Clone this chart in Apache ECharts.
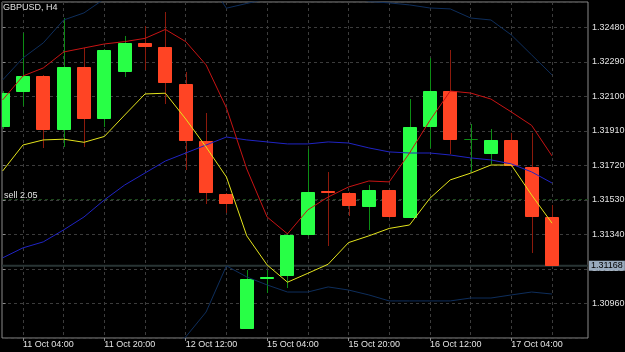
<!DOCTYPE html>
<html>
<head>
<meta charset="utf-8">
<style>
  html, body { margin: 0; padding: 0; background: #000; }
  #chart { width: 625px; height: 352px; }
</style>
<script src="https://cdn.jsdelivr.net/npm/echarts@6/dist/echarts.min.js"></script>
</head>
<body>
<div id="chart"></div>
<script>
// H4 bar times
const times = [
  '11 Oct 00:00', '11 Oct 04:00', '11 Oct 08:00', '11 Oct 12:00', '11 Oct 16:00', '11 Oct 20:00',
  '12 Oct 00:00', '12 Oct 04:00', '12 Oct 08:00', '12 Oct 12:00', '12 Oct 16:00', '12 Oct 20:00',
  '15 Oct 00:00', '15 Oct 04:00', '15 Oct 08:00', '15 Oct 12:00', '15 Oct 16:00', '15 Oct 20:00',
  '16 Oct 00:00', '16 Oct 04:00', '16 Oct 08:00', '16 Oct 12:00', '16 Oct 16:00', '16 Oct 20:00',
  '17 Oct 00:00', '17 Oct 04:00', '17 Oct 08:00', '17 Oct 12:00'
]
const opens = [
  1.31930, 1.32122, 1.32212, 1.31915, 1.32262, 1.31975, 1.32236, 1.32395, 1.32370, 1.32168,
  1.31856, 1.31563, 1.30822, 1.31093, 1.31112, 1.31337, 1.31579, 1.31570, 1.31493, 1.31583,
  1.31432, 1.31930, 1.32131, 1.31862, 1.31781, 1.31860, 1.31713, 1.31435
]
const highs = [
  1.32129, 1.32447, 1.32218, 1.32530, 1.32364, 1.32361, 1.32432, 1.32487, 1.32566, 1.32236,
  1.32007, 1.31566, 1.31145, 1.31145, 1.31348, 1.31810, 1.31685, 1.31574, 1.31612, 1.31585,
  1.32084, 1.32309, 1.32355, 1.31948, 1.31919, 1.31898, 1.31896, 1.31502
]
const lows = [
  1.31920, 1.32047, 1.31814, 1.31823, 1.31823, 1.31933, 1.32205, 1.32245, 1.32058, 1.31695,
  1.31506, 1.31457, 1.30817, 1.31016, 1.31044, 1.31331, 1.31277, 1.31442, 1.31365, 1.31431,
  1.31428, 1.31816, 1.31783, 1.31685, 1.31728, 1.31709, 1.31240, 1.31166
]
const closes = [
  1.32117, 1.32210, 1.31915, 1.32262, 1.31975, 1.32355, 1.32395, 1.32373, 1.32171, 1.31856,
  1.31567, 1.31508, 1.31093, 1.31108, 1.31337, 1.31576, 1.31570, 1.31498, 1.31583, 1.31435,
  1.31933, 1.32131, 1.31860, 1.31864, 1.31860, 1.31714, 1.31435, 1.31168
]

// bollinger bands
const bbUpper = [
  1.32190, 1.32311, 1.32394, 1.32520, 1.32559, 1.32636, 1.32707, 1.32751, 1.32795, 1.32801,
  1.32751, 1.32585, 1.32611, 1.32636, 1.32652, 1.32652, 1.32647, 1.32652, 1.32622, 1.32614,
  1.32603, 1.32586, 1.32581, 1.32531, 1.32520, 1.32438, 1.32328, 1.32218
]
const bbMiddle = [
  1.31211, 1.31266, 1.31299, 1.31365, 1.31436, 1.31530, 1.31612, 1.31678, 1.31744, 1.31788,
  1.31832, 1.31876, 1.31860, 1.31849, 1.31838, 1.31838, 1.31849, 1.31843, 1.31816, 1.31794,
  1.31788, 1.31788, 1.31777, 1.31761, 1.31750, 1.31728, 1.31684, 1.31623
]
const bbLower = [
  1.30231, 1.30220, 1.30204, 1.30209, 1.30314, 1.30424, 1.30517, 1.30605, 1.30693, 1.30776,
  1.30913, 1.31167, 1.31106, 1.31062, 1.31023, 1.31023, 1.31051, 1.31034, 1.31007, 1.30974,
  1.30974, 1.30974, 1.30974, 1.30990, 1.30990, 1.31007, 1.31023, 1.31012
]
// MA on highs (red) / MA on lows (yellow)
const maHigh = [
  1.32080, 1.32212, 1.32256, 1.32344, 1.32366, 1.32388, 1.32401, 1.32419, 1.32468, 1.32401,
  1.32273, 1.32036, 1.31700, 1.31436, 1.31343, 1.31475, 1.31546, 1.31601, 1.31634, 1.31629,
  1.31788, 1.31967, 1.32129, 1.32118, 1.32085, 1.32014, 1.31940, 1.31772
]
const maLow = [
  1.31689, 1.31832, 1.31860, 1.31864, 1.31847, 1.31879, 1.31997, 1.32113, 1.32117, 1.31975,
  1.31821, 1.31656, 1.31332, 1.31172, 1.31077, 1.31126, 1.31176, 1.31295, 1.31332, 1.31373,
  1.31392, 1.31539, 1.31640, 1.31677, 1.31722, 1.31722, 1.31557, 1.31402
]

const sellLevel = 1.31532
const sellText = 'sell 2.05'
const lastPrice = closes[closes.length - 1]
const gridIdx = [1, 3, 5, 7, 9, 11, 13, 15, 17, 19, 21, 23, 25, 27]
const labelIdx = [1, 5, 9, 13, 17, 21, 25]

const yMin = 1.30770
const yMax = 1.32619
const yStep = 0.0019
const xMin = -0.03
const xMax = 28.77

const textColor = '#e2e2e2'
const gridColor = '#3c3c3c'
const font = "'Liberation Sans', Arial, sans-serif"
const fontSize = 9

const candleData = times.map((t, i) => [i, opens[i], closes[i], lows[i], highs[i]])
const toXY = arr => arr.map((v, i) => [i, v])

function renderCandle(params, api) {
  const i = api.value(0)
  const o = api.value(1)
  const c = api.value(2)
  const pO = api.coord([i, o])
  const pC = api.coord([i, c])
  const pL = api.coord([i, api.value(3)])
  const pH = api.coord([i, api.value(4)])
  const x = Math.round(pO[0])
  const up = c >= o
  const wick = up ? '#0c8c14' : '#8c1a0c'
  const fill = up ? '#28ff46' : '#ff4424'
  const top = Math.round(Math.min(pO[1], pC[1]))
  const bot = Math.round(Math.max(pO[1], pC[1]))
  return {
    type: 'group',
    children: [
      {
        type: 'line',
        shape: { x1: x + 0.5, y1: Math.round(pH[1]), x2: x + 0.5, y2: Math.round(pL[1]) },
        style: { stroke: wick, lineWidth: 1 }
      },
      {
        type: 'rect',
        shape: { x: x - 6.5, y: top + 0.5, width: 13, height: Math.max(bot - top - 1, 0) },
        style: { fill: fill, stroke: bot - top < 2 ? wick : fill, lineWidth: 1 }
      }
    ]
  }
}

function lineSeries(name, data, color) {
  return {
    name: name,
    type: 'line',
    data: data,
    symbol: 'none',
    silent: true,
    z: 3,
    lineStyle: { color: color, width: 1 }
  }
}

// bid line, tag sits on the price scale
const bidLine = lineSeries('bid', [[xMin, lastPrice], [xMax, lastPrice]], '#283434')
bidLine.z = 1
bidLine.lineStyle.width = 2
bidLine.endLabel = {
  show: true,
  distance: 1,
  formatter: lastPrice.toFixed(5),
  backgroundColor: '#98aabd',
  color: '#000',
  padding: [1, 2, 0, 2],
  fontSize: fontSize,
  fontFamily: font
}

// open sell order, drawn right to left so the end label lands on the left
const sellLine = lineSeries('sell', [[xMax, sellLevel], [xMin, sellLevel]], '#1e4a1e')
sellLine.z = 1
sellLine.lineStyle.type = [3, 3]
sellLine.endLabel = {
  show: true,
  distance: 2,
  offset: [0, -4],
  formatter: sellText,
  color: textColor,
  fontSize: fontSize,
  fontFamily: font
}

const chart = echarts.init(document.getElementById('chart'))
chart.setOption({
  backgroundColor: '#000',
  animation: false,
  title: {
    text: 'GBPUSD, H4',
    left: 3,
    top: 3,
    padding: 0,
    textStyle: { color: textColor, fontSize: fontSize, fontWeight: 'normal', fontFamily: font }
  },
  grid: {
    left: 2,
    right: 37,
    top: 2,
    bottom: 14,
    outerBoundsMode: 'none',
    containLabel: false,
    show: true,
    backgroundColor: '#000',
    borderColor: '#8a8a8a',
    borderWidth: 1
  },
  xAxis: [
    {
      type: 'value',
      min: xMin,
      max: xMax,
      position: 'top',
      axisLine: { show: false },
      axisTick: { show: false, customValues: gridIdx },
      axisLabel: { show: false },
      splitLine: { show: true, lineStyle: { color: gridColor, type: [3, 3] } }
    },
    {
      type: 'value',
      min: xMin,
      max: xMax,
      position: 'bottom',
      axisLine: { show: false },
      axisTick: { show: true, customValues: labelIdx, length: 3, lineStyle: { color: '#8a8a8a' } },
      axisLabel: {
        customValues: labelIdx,
        formatter: v => times[Math.round(v)],
        align: 'left',
        margin: 2,
        color: textColor,
        fontSize: fontSize,
        fontFamily: font
      },
      splitLine: { show: false }
    }
  ],
  yAxis: {
    type: 'value',
    position: 'right',
    min: yMin,
    max: yMax,
    interval: yStep,
    axisLine: { show: false },
    axisTick: { show: true, length: 3, lineStyle: { color: '#8a8a8a' } },
    axisLabel: {
      formatter: v => v.toFixed(5),
      showMinLabel: false,
      showMaxLabel: false,
      margin: 4,
      color: textColor,
      fontSize: fontSize,
      fontFamily: font
    },
    splitLine: { show: true, lineStyle: { color: gridColor, type: [3, 3] } }
  },
  series: [
    bidLine,
    sellLine,
    {
      name: 'GBPUSD',
      type: 'custom',
      xAxisIndex: 0,
      renderItem: renderCandle,
      data: candleData,
      encode: { x: 0, y: [1, 2, 3, 4] },
      clip: true,
      z: 2
    },
    lineSeries('BB upper', toXY(bbUpper), '#0e2e5c'),
    lineSeries('BB lower', toXY(bbLower), '#0e2e5c'),
    lineSeries('BB middle', toXY(bbMiddle), '#2024c4'),
    lineSeries('MA high', toXY(maHigh), '#c81414'),
    lineSeries('MA low', toXY(maLow), '#e4e41c')
  ]
})
</script>
</body>
</html>
